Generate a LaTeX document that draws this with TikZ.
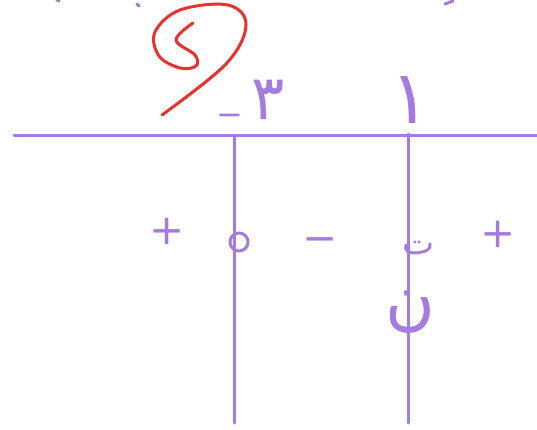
\documentclass[tikz,border=0pt]{standalone}
\usepackage{fontspec}
\newfontfamily\farsi[Script=Arabic]{DejaVu Sans}
\newfontfamily\signfont{DejaVu Sans}
\definecolor{pen}{HTML}{A67BDF}
\definecolor{redpen}{HTML}{E8322E}
\tikzset{
  penline/.style={line width=3pt, pen, line cap=round},
  redline/.style={line width=3pt, redpen, line cap=round, line join=round},
  sign/.style={text=pen, inner sep=0pt, font=\signfont\fontsize{42}{42}\selectfont},
  digit/.style={text=pen, inner sep=0pt, font=\farsi\fontsize{62}{62}\selectfont},
  zero/.style={circle, draw=pen, line width=3pt, minimum size=18pt, inner sep=0pt},
}
\begin{document}
\begin{tikzpicture}[x=1pt, y=-1pt]
  \useasboundingbox (0,0) rectangle (537,430);

  % table lines
  \coordinate (hl) at (14,136);
  \coordinate (hr) at (537,136);
  \coordinate (atop) at (234,136);
  \coordinate (abot) at (234,423);
  \coordinate (btop) at (408,134);
  \coordinate (bbot) at (408,423);
  \draw[penline] (hl) -- (hr);
  \draw[penline] (atop) -- (abot);
  \draw[penline] (btop) -- (bbot);

  % roots
  \node[sign, font=\signfont\fontsize{32}{32}\selectfont] (minusA) at (230,120) {−};
  \node[digit] (rootA) at (268,100) {۳};
  \node[digit, font=\farsi\fontsize{74}{74}\selectfont] (rootB) at (410,100) {۱};

  % signs
  \node[sign] (signL) at (167,231) {+};
  \node[zero] (zeroA) at (239,242) {};
  \node[sign] (signM) at (320,245) {−};
  \node[digit, font=\farsi\fontsize{34}{34}\selectfont] (undefT) at (418,248) {ت};
  \node[digit, font=\farsi\fontsize{68}{68}\selectfont] (undefN) at (410,312) {ن};
  \node[sign] (signR) at (498,234) {+};

  % red mark
  \draw[redline] plot[smooth, tension=0.6] coordinates {(193,23) (176,40) (195,55) (196,66) (180,68)
    (159,56) (155,32) (180,10) (228,5) (246,25) (226,64) (162,115)};

  % cut-off strokes at top
  \draw[penline] (57,0) -- (59,1);
  \draw[penline] (137,4) -- (139,6);
  \draw[penline] (445,4) -- (453,1);
\end{tikzpicture}
\end{document}
